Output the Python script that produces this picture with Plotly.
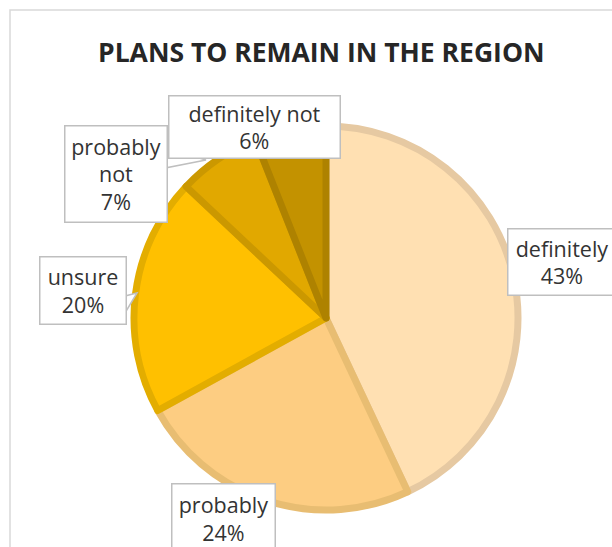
import plotly.graph_objects as go

categories = ["definitely", "probably", "unsure", "probably not", "definitely not"]
values = [43, 24, 20, 7, 6]
label_lines = ["definitely<br>43%", "probably<br>24%", "unsure<br>20%", "probably<br>not<br>7%", "definitely not<br>6%"]
fill_colors = ["#FFE0B2", "#FDCD82", "#FFC000", "#E1A800", "#C39200"]
edge_colors = ["#E6C9A2", "#E8BD72", "#E3AD00", "#CB9800", "#AE8200"]
title_text = "PLANS TO REMAIN IN THE REGION"

W, H = 612, 547
cx, cy, r = 326, 318, 192

def px(x):
    return x / W

def py(y):
    return 1 - y / H

fig = go.Figure()
fig.add_trace(go.Pie(
    labels=categories, values=values, sort=False, direction="clockwise", rotation=0,
    marker=dict(colors=fill_colors, line=dict(color=edge_colors, width=7)),
    textinfo="none", hoverinfo="label+percent", showlegend=False,
    domain=dict(x=[px(cx - r), px(cx + r)], y=[py(cy + r), py(cy - r)]),
))

# label boxes: left, top, right, bottom (pixels)
boxes = [(507, 228, 616, 295), (171, 483, 275, 553), (40, 257, 127, 325),
         (64, 125, 167, 222), (168, 95, 340, 158)]
anns = []
for txt, (l, t, rr, b) in zip(label_lines, boxes):
    anns.append(dict(
        x=px((l + rr) / 2), y=py((t + b) / 2), xref="paper", yref="paper",
        xanchor="center", yanchor="middle", width=rr - l - 4, height=b - t - 4,
        text=txt, showarrow=False, valign="middle",
        font=dict(family="Open Sans", size=21.5, color="#333333"), align="center",
        bgcolor="white", bordercolor="#BFBFBF", borderwidth=1.5, borderpad=1,
    ))
anns.append(dict(x=px(321), y=py(52), xref="paper", yref="paper", xanchor="center", yanchor="middle",
                 text="<b>" + title_text + "</b>",
                 showarrow=False, font=dict(family="Open Sans", size=26.5, color="#262626")))

def tri(pts):
    d = "M " + " L ".join(f"{px(x)},{py(y)}" for x, y in pts) + " Z"
    return dict(type="path", path=d, xref="paper", yref="paper",
                line=dict(color="#BFBFBF", width=1.5), fillcolor="white", layer="above")

shapes = [dict(type="rect", xref="paper", yref="paper", x0=px(10), x1=1.05, y0=-0.05, y1=py(10),
               line=dict(color="#D9D9D9", width=1.5), fillcolor="rgba(0,0,0,0)", layer="below"),
          tri([(165, 148), (206, 160), (165, 168)]),
          tri([(125, 296), (137, 293), (125, 313)])]

fig.update_layout(
    width=W, height=H, margin=dict(l=0, r=0, t=0, b=0),
    paper_bgcolor="white", plot_bgcolor="white",
    annotations=anns, shapes=shapes,
)
fig.write_html("out.html")
